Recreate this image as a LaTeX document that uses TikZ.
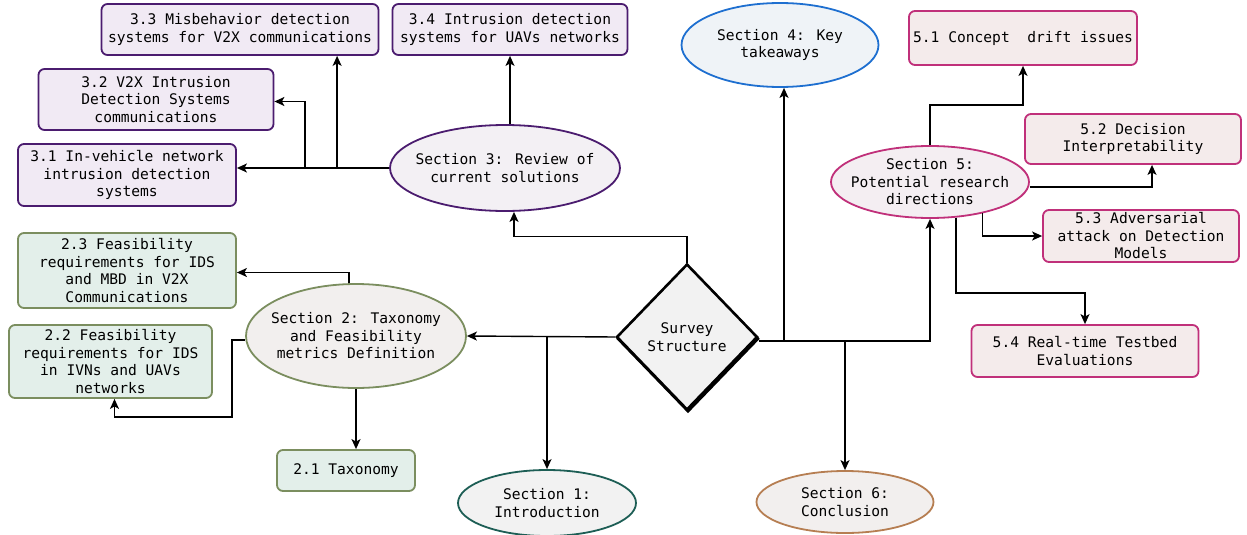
\documentclass[tikz,border=0pt]{standalone}
\usepackage{fontspec}
\setmainfont{DejaVu Sans Mono}
\usetikzlibrary{arrows.meta, shapes.geometric, shadows}
\definecolor{purp}{HTML}{4B1C6F}
\definecolor{purpfill}{HTML}{F1EAF4}
\definecolor{purpsec}{HTML}{F3F0F4}
\definecolor{bluesec}{HTML}{1E6FD0}
\definecolor{bluefill}{HTML}{EFF3F7}
\definecolor{pinksec}{HTML}{C0307A}
\definecolor{pinkfill}{HTML}{F4EBEB}
\definecolor{pinkell}{HTML}{F4EEF2}
\definecolor{olive}{HTML}{7B8E5F}
\definecolor{olivefill}{HTML}{E3EFEA}
\definecolor{oliveell}{HTML}{F2EFEE}
\definecolor{tealsec}{HTML}{1D5E55}
\definecolor{brownsec}{HTML}{B67E52}
\definecolor{greyfill}{HTML}{F2F2F2}
\tikzstyle{structure}=[>={Stealth[length=10pt,width=9pt,inset=2.5pt]}, x=1pt, y=-1pt,
  font=\fontsize{14.6}{17.5}\selectfont, line width=1.4pt]
\tikzstyle{sec}=[ellipse, draw, line width=1.8pt, inner sep=0pt]
\tikzstyle{sectext}=[align=center, inner sep=0pt]
\tikzstyle{sub}=[rectangle, rounded corners=6pt, draw, line width=1.8pt, inner sep=0pt, align=center]

\begin{document}
\begin{tikzpicture}[structure]
  \useasboundingbox (0,0) rectangle (1247,535);
  % centre
  \node[diamond, draw, line width=2.6pt, fill=greyfill, minimum width=141pt, minimum height=146pt,
    inner sep=0pt, align=center,
    drop shadow={shadow xshift=1pt, shadow yshift=-1.8pt, opacity=1, fill=black, draw=black, line width=2.6pt}]
    (survey) at (687,337) {Survey\\Structure};
  % sections
  \node[sec, draw=tealsec, fill=greyfill, minimum width=178pt, minimum height=66pt,
    label={[sectext]center:Section 1:\\Introduction}] (s1) at (547,503) {};
  \node[sec, draw=olive, fill=oliveell, minimum width=220pt, minimum height=104pt,
    label={[sectext]center:Section 2: Taxonomy\\and Feasibility\\metrics Definition}] (s2) at (356,336) {};
  \node[sec, draw=purp, fill=purpsec, minimum width=230pt, minimum height=86pt,
    label={[sectext]center:Section 3: Review of\\current solutions}] (s3) at (505,168) {};
  \node[sec, draw=bluesec, fill=bluefill, minimum width=197pt, minimum height=84pt,
    label={[sectext]center:Section 4: Key\\takeaways}] (s4) at (780,45) {};
  \node[sec, draw=pinksec, fill=pinkell, minimum width=198pt, minimum height=72pt,
    label={[sectext]center:Section 5:\\Potential research\\directions}] (s5) at (930,182) {};
  \node[sec, draw=brownsec, fill=oliveell, minimum width=177pt, minimum height=62pt,
    label={[sectext]center:Section 6:\\Conclusion}] (s6) at (845,502) {};
  % subsections 2.x
  \node[sub, draw=olive, fill=olivefill, minimum width=138pt, minimum height=41pt] (r21) at (346,470.5) {2.1 Taxonomy};
  \node[sub, draw=olive, fill=olivefill, minimum width=203pt, minimum height=73pt] (r22) at (110.5,361.5) {2.2 Feasibility\\requirements for IDS\\in IVNs and UAVs\\networks};
  \node[sub, draw=olive, fill=olivefill, minimum width=218pt, minimum height=75pt] (r23) at (127,270.5) {2.3 Feasibility\\requirements for IDS\\and MBD in V2X\\Communications};
  % subsections 3.x
  \node[sub, draw=purp, fill=purpfill, minimum width=218pt, minimum height=62pt] (r31) at (127,175) {3.1 In-vehicle network\\intrusion detection\\systems};
  \node[sub, draw=purp, fill=purpfill, minimum width=235pt, minimum height=61pt] (r32) at (156,99.5) {3.2 V2X Intrusion\\Detection Systems\\communications};
  \node[sub, draw=purp, fill=purpfill, minimum width=277pt, minimum height=51pt] (r33) at (240,29.5) {3.3 Misbehavior detection\\systems for V2X communications};
  \node[sub, draw=purp, fill=purpfill, minimum width=235pt, minimum height=51pt] (r34) at (510,29.5) {3.4 Intrusion detection\\systems for UAVs networks};
  % subsections 5.x
  \node[sub, draw=pinksec, fill=pinkfill, minimum width=228pt, minimum height=54pt] (r51) at (1023,38) {5.1 Concept\ \ drift issues};
  \node[sub, draw=pinksec, fill=pinkfill, minimum width=216pt, minimum height=50pt] (r52) at (1133,139) {5.2 Decision\\Interpretability};
  \node[sub, draw=pinksec, fill=pinkfill, minimum width=196pt, minimum height=52pt] (r53) at (1141,236) {5.3 Adversarial\\attack on Detection\\Models};
  \node[sub, draw=pinksec, fill=pinkfill, minimum width=227pt, minimum height=52pt] (r54) at (1085,351) {5.4 Real-time Testbed\\Evaluations};
  % survey to sections
  \coordinate (hub) at ([yshift=-4pt]survey.east);
  \draw[->] (survey.west) -- (s2.east);
  \draw[->] (s1.north |- survey.west) -- (s1.north);
  \draw[->] (survey.north) -- ++(0,-26) -| ([xshift=9pt]s3.south);
  \draw[->] (hub) -| (s5.south);
  \draw[->] ([xshift=4pt]s4.south |- hub) -- ([xshift=4pt]s4.south);
  \draw[->] (s6.north |- hub) -- (s6.north);
  % section 2
  \draw[->] ([xshift=-7pt]s2.north) |- ([yshift=-2pt]r23.east);
  \draw[->] ([yshift=-4pt]s2.west) -| ++(-13,77) -| ([xshift=4pt]r22.south);
  \draw[->] (s2.south) -- (s2.south |- r21.north);
  % section 3
  \draw[->] (s3.west) -- (s3.west -| r31.east);
  \draw[->] ([xshift=-52pt]s3.west) -- ([xshift=-52pt]s3.west |- r33.south);
  \draw[->] ([xshift=-84pt]s3.west) |- ([yshift=-2pt]r32.east);
  \draw[->] (r34.south |- s3.north) -- (r34.south);
  % section 5
  \draw[->] (s5.north) -- ++(0,-40) -| (r51.south);
  \draw[->] ([yshift=-5pt]s5.east) -| ([xshift=19pt]r52.south);
  \draw[->] (s5.-31) |- (r53.west);
  \draw[->] (s5.-54) |- ([yshift=31pt]r54.north) -- (r54.north);
\end{tikzpicture}
\end{document}
